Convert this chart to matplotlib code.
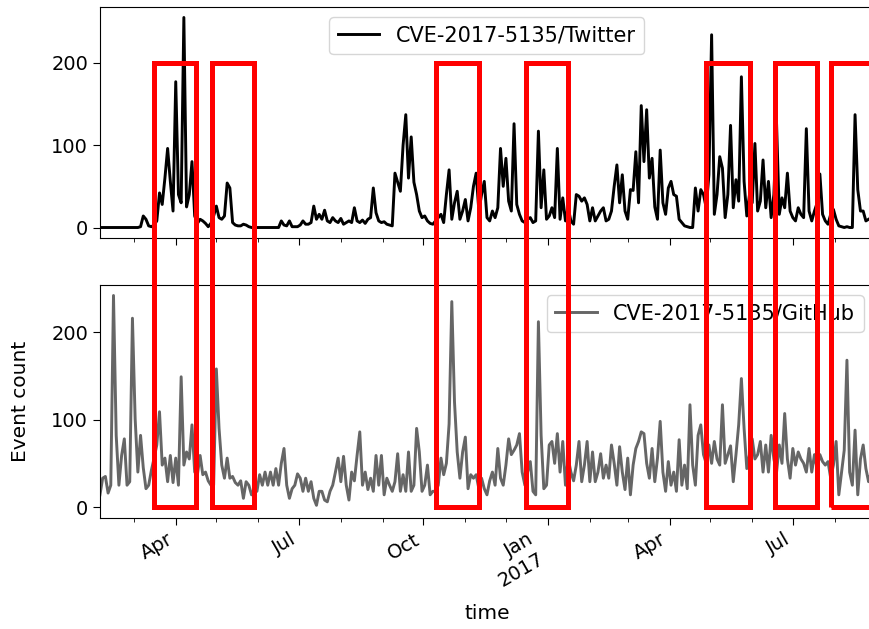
import matplotlib
matplotlib.use("Agg")
import matplotlib.pyplot as plt
import matplotlib.dates as mdates
from matplotlib.patches import Rectangle
from matplotlib.ticker import FuncFormatter
import pandas as pd

# event counts every 2 days
start = "2016-02-05"

twitter = [
    0, 0, 0, 0, 0, 0, 0, 0, 0, 0,
    0, 0, 0, 0, 0, 1, 14, 10, 2, 1,
    3, 8, 42, 28, 60, 96, 56, 20, 177, 40,
    30, 255, 25, 40, 80, 14, 5, 10, 8, 5,
    1, 5, 14, 26, 12, 10, 14, 54, 48, 6,
    3, 2, 2, 4, 3, 1, 0, 0, 0, 0,
    0, 0, 0, 0, 0, 0, 0, 8, 3, 2,
    8, 1, 1, 1, 3, 8, 4, 4, 6, 26,
    10, 16, 10, 21, 8, 6, 12, 8, 6, 11,
    4, 6, 8, 6, 24, 8, 6, 9, 5, 10,
    12, 48, 18, 8, 6, 7, 4, 3, 2, 66,
    55, 44, 100, 137, 60, 110, 55, 40, 20, 12,
    14, 8, 5, 4, 8, 12, 16, 6, 40, 70,
    10, 30, 44, 10, 20, 34, 8, 24, 50, 66,
    20, 40, 56, 12, 8, 20, 12, 24, 96, 50,
    84, 32, 20, 126, 28, 16, 8, 6, 10, 12,
    6, 8, 117, 24, 70, 10, 14, 24, 12, 96,
    10, 36, 8, 24, 8, 4, 40, 38, 32, 36,
    28, 8, 24, 8, 14, 20, 24, 8, 10, 20,
    50, 76, 30, 64, 20, 10, 46, 45, 92, 30,
    148, 80, 143, 60, 84, 25, 10, 94, 30, 16,
    48, 56, 40, 38, 10, 6, 2, 1, 0, 0,
    48, 20, 46, 40, 24, 64, 234, 16, 40, 86,
    72, 12, 40, 124, 24, 58, 32, 183, 56, 14,
    40, 30, 102, 20, 32, 82, 24, 56, 12, 40,
    126, 16, 36, 24, 66, 20, 12, 8, 24, 16,
    12, 120, 20, 8, 20, 30, 65, 16, 8, 4,
    16, 22, 10, 2, 1, 0, 1, 0, 0, 137,
    46, 20, 20, 8, 10, 12, 8,
]

github = [
    14, 33, 35, 16, 25, 242, 82, 25, 59, 78,
    25, 29, 216, 101, 40, 82, 45, 21, 25, 42,
    56, 71, 109, 48, 56, 29, 59, 28, 56, 25,
    149, 48, 63, 55, 94, 40, 37, 59, 37, 40,
    30, 25, 25, 158, 90, 48, 33, 56, 33, 35,
    28, 25, 30, 10, 29, 25, 14, 21, 18, 37,
    25, 40, 25, 40, 25, 44, 25, 50, 67, 25,
    10, 21, 25, 38, 33, 18, 33, 18, 29, 10,
    2, 18, 18, 8, 6, 18, 25, 40, 56, 29,
    58, 25, 8, 40, 30, 59, 86, 25, 40, 20,
    33, 18, 59, 25, 59, 14, 33, 25, 18, 29,
    61, 18, 37, 18, 63, 18, 25, 90, 63, 18,
    25, 48, 14, 18, 18, 25, 56, 37, 50, 95,
    235, 120, 63, 33, 63, 80, 21, 37, 33, 37,
    21, 33, 21, 14, 30, 40, 25, 67, 33, 25,
    48, 78, 60, 65, 71, 84, 40, 25, 40, 52,
    18, 14, 212, 82, 21, 25, 71, 75, 50, 84,
    40, 75, 25, 56, 40, 30, 48, 75, 29, 48,
    75, 29, 63, 29, 40, 61, 33, 48, 33, 71,
    50, 25, 69, 40, 20, 56, 14, 48, 67, 75,
    86, 84, 50, 33, 67, 29, 56, 98, 40, 18,
    52, 25, 40, 18, 77, 25, 48, 21, 117, 48,
    25, 82, 94, 60, 50, 71, 50, 75, 55, 48,
    117, 50, 60, 70, 29, 60, 94, 147, 90, 44,
    60, 78, 55, 60, 75, 40, 71, 40, 82, 55,
    40, 71, 50, 107, 55, 33, 67, 48, 63, 55,
    50, 40, 67, 40, 60, 44, 60, 52, 48, 52,
    33, 48, 75, 14, 40, 65, 168, 40, 25, 88,
    14, 55, 71, 44, 29, 40, 55,
]

# highlighted windows (red boxes)
windows = [
    ("2016-03-16", "2016-04-16"),
    ("2016-04-28", "2016-05-29"),
    ("2016-10-10", "2016-11-11"),
    ("2016-12-16", "2017-01-16"),
    ("2017-04-28", "2017-05-30"),
    ("2017-06-18", "2017-07-19"),
    ("2017-07-29", "2017-08-31"),
]

dates = pd.date_range(start, periods=len(twitter), freq="2D")

fig = plt.figure(figsize=(8.7, 6.29), dpi=100)
ax1 = fig.add_axes([0.1149, 0.6216, 0.8897, 0.3673])
ax2 = fig.add_axes([0.1149, 0.1765, 0.8897, 0.3704], sharex=ax1)

ax1.plot(dates, twitter, color="black", lw=2.1, label="CVE-2017-5135/Twitter")
ax2.plot(dates, github, color="#666666", lw=2.1, label="CVE-2017-5135/GitHub")

ax1.legend(loc="upper center", fontsize=15)
ax2.legend(loc="upper right", fontsize=15)

ax1.set_xlim(dates[0], dates[-1])
ax2.set_ylim(-12.5, 254)


def month_fmt(x, pos):
    d = mdates.num2date(x)
    if d.month == 1:
        return d.strftime("%b") + "\n" + str(d.year)
    return d.strftime("%b")


for ax in (ax1, ax2):
    ax.xaxis.set_major_locator(mdates.MonthLocator(bymonth=(1, 4, 7, 10)))
    ax.xaxis.set_minor_locator(mdates.MonthLocator())
    ax.xaxis.set_major_formatter(FuncFormatter(month_fmt))
    ax.set_yticks([0, 100, 200])
    ax.tick_params(which="major", labelsize=14, length=5)
    ax.tick_params(which="minor", length=3)

ax1.tick_params(labelbottom=False)
for lbl in ax2.get_xticklabels():
    lbl.set_rotation(30)
    lbl.set_ha("right")

ax2.set_xlabel("time", fontsize=14.5, labelpad=10)
ax2.set_ylabel("Event count", fontsize=14.5)
ax2.yaxis.set_label_coords(-0.09, 0.5)

# red boxes run from y=200 on the top panel down to y=0 on the bottom panel
to_fig = fig.transFigure.inverted()
for a, b in windows:
    x0 = mdates.date2num(pd.Timestamp(a))
    x1 = mdates.date2num(pd.Timestamp(b))
    top = to_fig.transform(ax1.transData.transform((x0, 200)))
    bot = to_fig.transform(ax2.transData.transform((x1, 0)))
    rect = Rectangle((top[0], bot[1]), bot[0] - top[0], top[1] - bot[1],
                     transform=fig.transFigure, fill=False, edgecolor="red",
                     lw=3.6, clip_on=False)
    fig.add_artist(rect)

fig.savefig("out.png", dpi=100)
